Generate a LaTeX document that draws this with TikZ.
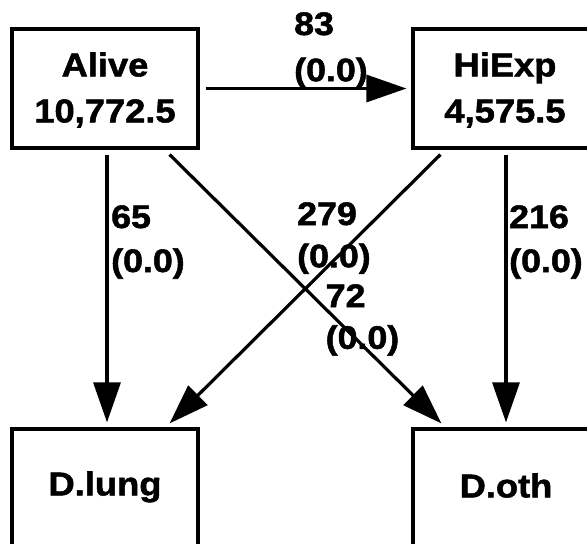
\documentclass[tikz,border=0pt]{standalone}
\usepackage{fontspec}
\setmainfont{Liberation Sans}[FakeStretch=1.1,FakeBold=1.6]
\usetikzlibrary{arrows.meta,calc}
\newcommand{\twolines}[2]{\begin{tabular}[t]{@{}l@{}}#1\\#2\end{tabular}}
\newcommand{\twocentre}[2]{\begin{tabular}[t]{@{}c@{}}#1\\#2\end{tabular}}
\begin{document}
\begin{tikzpicture}[x=1pt,y=-1pt,
  statebox/.style={draw,line width=3.2pt,minimum width=186pt,minimum height=119pt,inner sep=0pt},
  boxtext/.style={inner sep=0pt,anchor=base,font=\bfseries\fontsize{33}{46}\selectfont},
  flowlabel/.style={inner sep=0pt,anchor=base west,font=\bfseries\fontsize{32.5}{44}\selectfont},
  flow/.style={line width=3.2pt,-{Triangle[length=40pt,width=27pt]}}]
\useasboundingbox (0,0) rectangle (587,544);
\fill[white] (0,0) rectangle (587,544);
\clip (0,0) rectangle (587,544);
% boxes
\node[statebox] (alive) at (105,88.5) {};
\node[statebox] (hiexp) at (506,88.5) {};
\node[statebox] (dlung) at (105,488.5) {};
\node[statebox] (doth) at (506,488.5) {};
% box texts
\node[boxtext] (alivet) at ($(alive.north)+(0,49)$) {\renewcommand\arraystretch{1}\twocentre{Alive}{10,772.5}};
\node[boxtext] (hiexpt) at ($(hiexp.north)+(-1,49)$) {\renewcommand\arraystretch{1}\twocentre{HiExp}{4,575.5}};
\node[boxtext] (dlungt) at ($(dlung.north)+(0,68)$) {D.lung};
\node[boxtext] (dotht) at ($(doth.north)+(0,70)$) {D.oth};
% connectors
\draw[flow] ($(alive.east)+(6,0)$) -- ($(hiexp.west)+(-5,0)$);
\draw[flow] ($(alive.south)+(2,5)$) -- ($(dlung.north)+(2,-5)$);
\draw[flow] ($(alive.south east)+(-30,5)$) -- ($(doth.north west)+(30,-4)$);
\draw[flow] ($(hiexp.south west)+(29,5)$) -- ($(dlung.north east)+(-30,-4)$);
\draw[flow] ($(hiexp.south)+(0,5)$) -- ($(doth.north)+(0,-5)$);
% labels
\node[flowlabel] (l83) at (294,35) {\renewcommand\arraystretch{1.05}\twolines{83}{(0.0)}};
\node[flowlabel] (l65) at (111,228) {\renewcommand\arraystretch{1}\twolines{65}{(0.0)}};
\node[flowlabel] (l279) at (297,225) {\renewcommand\arraystretch{0.96}\twolines{279}{(0.0)}};
\node[flowlabel] (l72) at (325.5,307) {\renewcommand\arraystretch{0.95}\twolines{72}{(0.0)}};
\node[flowlabel] (l216) at (509,228) {\renewcommand\arraystretch{1}\twolines{216}{(0.0)}};
\end{tikzpicture}
\end{document}
